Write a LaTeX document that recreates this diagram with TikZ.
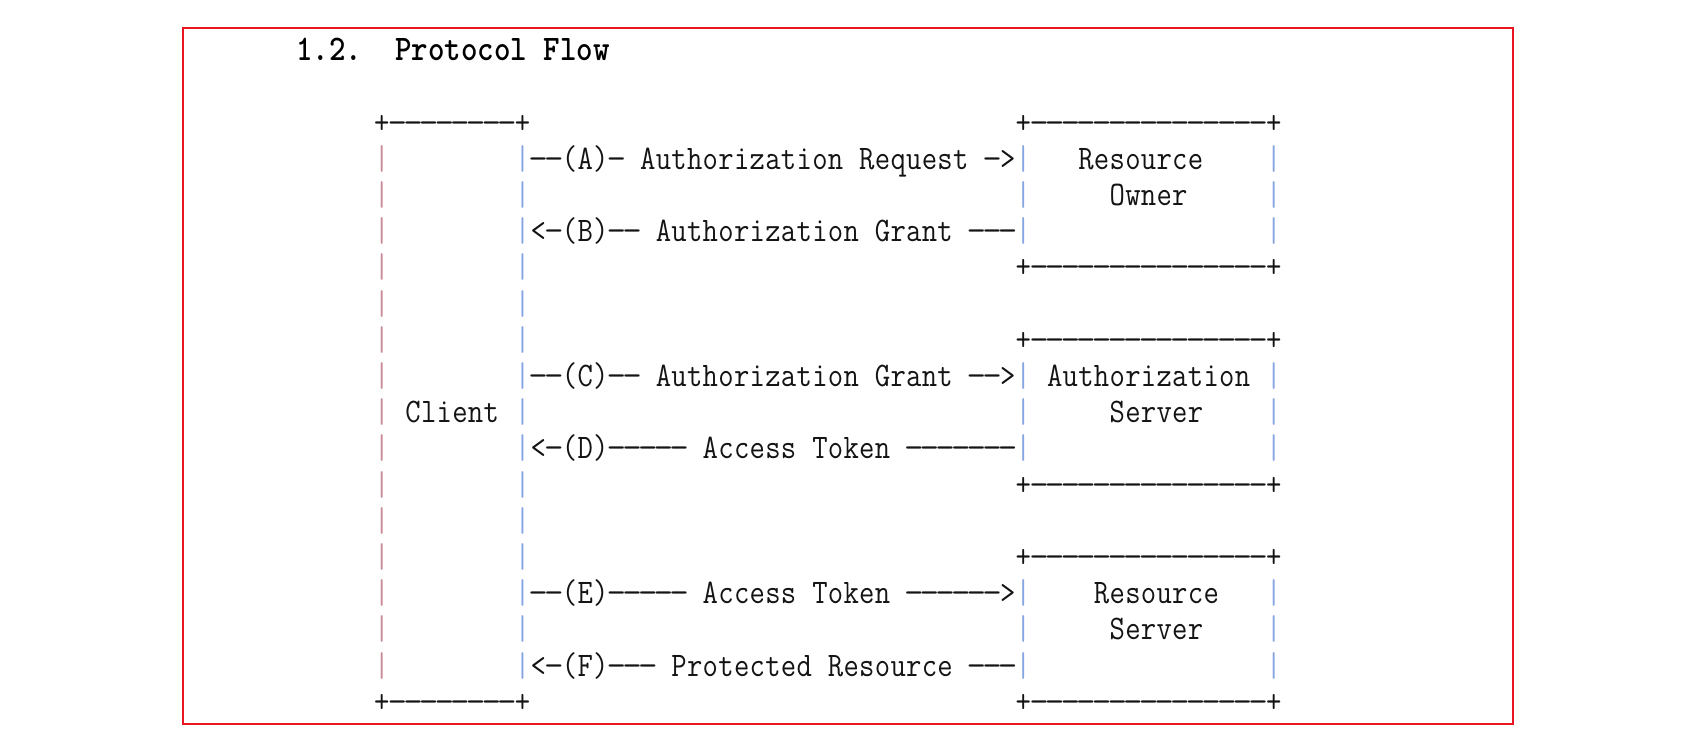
\documentclass[tikz,border=0pt]{standalone}
\usepackage{graphicx}
\usepackage{xcolor}
\definecolor{framered}{RGB}{234,22,30}
\definecolor{barpink}{RGB}{200,140,150}
\definecolor{barblue}{RGB}{135,165,225}
\definecolor{inkc}{RGB}{20,20,20}
\newdimen\cellw \cellw=15.65pt
\def\gx{0.8666}
\def\barcol{barblue}
\ExplSyntaxOn
\cs_new_protected:Npn \asciiline #1
  {
    \str_map_inline:nn {#1}
      {
        \hbox_to_wd:nn { \cellw }
          {
            \hss
            \str_case:nnF {##1}
              {
                { | } { \textcolor{\barcol}{ \scalebox{\gx}[1]{##1} } }
                { - } { \scalebox{1.1}[1]{##1} }
              }
              { \scalebox{\gx}[1]{##1} }
            \hss
          }
      }
  }
\ExplSyntaxOff
\tikzset{
  seg/.style={anchor=base west, inner sep=0pt, outer sep=0pt,
    font=\fontsize{34.4pt}{36pt}\selectfont\ttfamily, text=inkc},
  titlestyle/.style={anchor=base west, inner sep=0pt, outer sep=0pt,
    font=\fontsize{36pt}{38pt}\selectfont\ttfamily\bfseries, text=black},
  frame/.style={draw=framered, line width=2.3pt}
}
\newcommand\seg[3]{\node[seg] (s-#1-#2) at ({373.9+15.65*(#1)},{133+36.2*(#2)}) {\asciiline{#3}};}
\newcommand\pinkbar[1]{\node[seg] (p-#1) at (373.9,{133+36.2*(#1)}) {\def\barcol{barpink}\asciiline{|}};}
\begin{document}
\begin{tikzpicture}[x=1pt,y=-1pt]
\useasboundingbox (0,0) rectangle (1686,747);
\draw[frame] (183.2,27.7) rectangle (1513.2,723.8);
\node[titlestyle] (title) at (296,60.5) {\cellw=16.5pt\def\gx{0.873}\asciiline{1.2.}\hspace{2\cellw}\asciiline{Protocol Flow}};
% row 0
\seg{0}{0}{+--------+}
\seg{41}{0}{+---------------+}
% row 1
\pinkbar{1}
\seg{9}{1}{|--(A)- Authorization Request ->|}
\seg{45}{1}{Resource}
\seg{57}{1}{|}
% row 2
\pinkbar{2}
\seg{9}{2}{|}
\seg{41}{2}{|}
\seg{47}{2}{Owner}
\seg{57}{2}{|}
% row 3
\pinkbar{3}
\seg{9}{3}{|<-(B)-- Authorization Grant ---|}
\seg{57}{3}{|}
% row 4
\pinkbar{4}
\seg{9}{4}{|}
\seg{41}{4}{+---------------+}
% row 5
\pinkbar{5}
\seg{9}{5}{|}
% row 6
\pinkbar{6}
\seg{9}{6}{|}
\seg{41}{6}{+---------------+}
% row 7
\pinkbar{7}
\seg{9}{7}{|--(C)-- Authorization Grant -->| Authorization |}
% row 8
\pinkbar{8}
\seg{2}{8}{Client |}
\seg{41}{8}{|}
\seg{47}{8}{Server}
\seg{57}{8}{|}
% row 9
\pinkbar{9}
\seg{9}{9}{|<-(D)----- Access Token -------|}
\seg{57}{9}{|}
% row 10
\pinkbar{10}
\seg{9}{10}{|}
\seg{41}{10}{+---------------+}
% row 11
\pinkbar{11}
\seg{9}{11}{|}
% row 12
\pinkbar{12}
\seg{9}{12}{|}
\seg{41}{12}{+---------------+}
% row 13
\pinkbar{13}
\seg{9}{13}{|--(E)----- Access Token ------>|}
\seg{46}{13}{Resource}
\seg{57}{13}{|}
% row 14
\pinkbar{14}
\seg{9}{14}{|}
\seg{41}{14}{|}
\seg{47}{14}{Server}
\seg{57}{14}{|}
% row 15
\pinkbar{15}
\seg{9}{15}{|<-(F)--- Protected Resource ---|}
\seg{57}{15}{|}
% row 16
\seg{0}{16}{+--------+}
\seg{41}{16}{+---------------+}
\end{tikzpicture}
\end{document}
